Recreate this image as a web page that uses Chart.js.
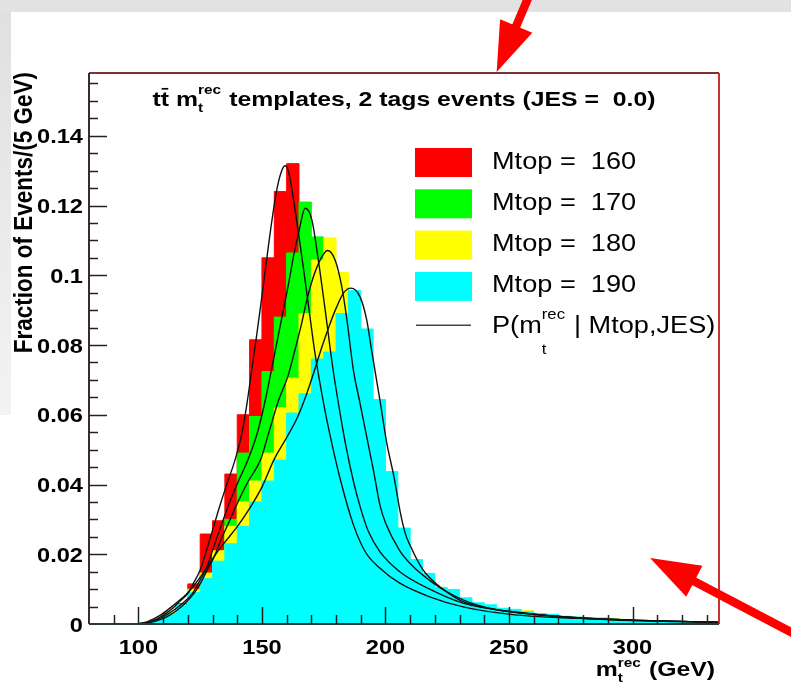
<!DOCTYPE html>
<html>
<head>
<meta charset="utf-8">
<title>ttbar mt templates</title>
<script src="https://cdn.jsdelivr.net/npm/chart.js@4.4.1/dist/chart.umd.min.js"></script>
<style>
    html, body { margin: 0; padding: 0; background: #fff; }
    #page { position: relative; width: 791px; height: 683px; overflow: hidden; background: #fff; }
    #topStrip { position: absolute; left: 0; top: 0; width: 791px; height: 12px; background: #e2e2e2; }
    #leftStrip { position: absolute; left: 0; top: 12px; width: 11px; height: 403px;
                 background: linear-gradient(to bottom, #e0e0e0, #f3f3f3); }
    #plot { position: absolute; left: 0; top: 0; }
</style>
</head>
<body>
<div id="page">
    <div id="topStrip"></div>
    <div id="leftStrip"></div>
    <canvas id="plot" width="791" height="683"></canvas>
</div>
<script>
// ---- binning (lower bin edges, GeV) ----
const binLow = [80, 85, 90, 95, 100, 105, 110, 115, 120, 125, 130, 135, 140, 145, 150, 155, 160,
    165, 170, 175, 180, 185, 190, 195, 200, 205, 210, 215, 220, 225, 230, 235, 240, 245, 250, 255,
    260, 265, 270, 275, 280, 285, 290, 295, 300, 305, 310, 315, 320, 325, 330];
const binWidth = 5;

// ---- template histograms, fraction of events per bin ----
const frac160 = [0, 0, 0, 0, 0.0003, 0.0012, 0.003, 0.0058, 0.0115, 0.0258, 0.0296, 0.043, 0.060,
    0.0815, 0.105, 0.124, 0.132, 0.100, 0.072, 0.052, 0.039, 0.029, 0.022, 0.017, 0.0135, 0.011,
    0.0092, 0.0078, 0.0066, 0.0056, 0.0048, 0.0041, 0.0036, 0.0031, 0.0027, 0.0024, 0.0021, 0.0019,
    0.0017, 0.0015, 0.0014, 0.0012, 0.0011, 0.001, 0.0009, 0.0008, 0.0007, 0.0006, 0.0005, 0.0005, 0.0004];
const frac170 = [0, 0, 0, 0, 0.0002, 0.001, 0.0028, 0.0055, 0.0095, 0.014, 0.020, 0.030, 0.049,
    0.0595, 0.0724, 0.088, 0.1064, 0.121, 0.111, 0.085, 0.062, 0.046, 0.034, 0.025, 0.019, 0.015,
    0.012, 0.010, 0.0082, 0.0068, 0.0058, 0.0049, 0.0042, 0.0036, 0.0032, 0.0028, 0.0025, 0.0023,
    0.002, 0.0018, 0.0017, 0.0017, 0.0015, 0.0012, 0.001, 0.0009, 0.0008, 0.0007, 0.0006, 0.0005, 0.0004];
const frac180 = [0, 0, 0, 0, 0.0002, 0.0012, 0.0035, 0.005, 0.010, 0.0146, 0.021, 0.028, 0.035,
    0.041, 0.049, 0.062, 0.0705, 0.089, 0.1044, 0.1107, 0.1008, 0.085, 0.062, 0.042, 0.029, 0.021,
    0.0165, 0.0125, 0.0098, 0.0078, 0.0064, 0.0054, 0.0046, 0.004, 0.0035, 0.0038, 0.0028, 0.0026,
    0.0022, 0.0019, 0.0018, 0.0016, 0.0014, 0.0012, 0.0011, 0.0009, 0.0008, 0.0007, 0.0006, 0.0005, 0.0004];
const frac190 = [0, 0, 0, 0, 0.0003, 0.0012, 0.003, 0.0055, 0.009, 0.013, 0.018, 0.023, 0.028,
    0.035, 0.041, 0.047, 0.0605, 0.066, 0.076, 0.078, 0.089, 0.0956, 0.0846, 0.0644, 0.0437, 0.0275,
    0.0185, 0.0145, 0.0105, 0.0099, 0.0075, 0.0061, 0.0055, 0.0045, 0.0042, 0.0035, 0.003, 0.0028,
    0.0022, 0.002, 0.0016, 0.0015, 0.0013, 0.0011, 0.0009, 0.0008, 0.0007, 0.0006, 0.0005, 0.0004, 0.0003];

// ---- fitted P(m | Mtop, JES) curves, sampled (mass GeV, value) ----
const fitM160 = [100, 103, 106.5, 110, 113, 116, 120, 122.5, 125, 129, 133, 136, 139.3, 142, 144,
    146, 148, 150, 152, 154, 156, 158, 159.5, 161, 162.8, 164.8, 166.9, 168.9, 171.6, 174.9, 177.6,
    181.7, 187, 192, 197.8, 205.8, 217.9, 231.4, 251.5, 278.4, 300, 335];
const fitV160 = [0, 0.0002, 0.0011, 0.0025, 0.004, 0.006, 0.0088, 0.012, 0.0155, 0.0245, 0.034,
    0.0405, 0.0475, 0.055, 0.0635, 0.0735, 0.0835, 0.094, 0.105, 0.1155, 0.1245, 0.130, 0.1314,
    0.129, 0.1216, 0.112, 0.1015, 0.091, 0.077, 0.0635, 0.054, 0.0415, 0.0285, 0.0205, 0.016,
    0.0117, 0.0078, 0.0049, 0.0027, 0.0016, 0.001, 0.0005];
const fitM170 = [100, 104, 107.7, 111, 114.4, 118, 121.9, 124.5, 127.2, 131.9, 137.3, 140.5, 144,
    148.1, 151.4, 154.1, 156.8, 158.8, 160.8, 162.8, 164.8, 167.5, 170.2, 172.9, 175.6, 178.8, 181.5,
    184, 187, 190, 193.1, 197.8, 205.8, 217.9, 231.4, 250, 278, 300, 335];
const fitV170 = [0, 0.0004, 0.0013, 0.0025, 0.004, 0.006, 0.0088, 0.012, 0.0155, 0.025, 0.0356,
    0.041, 0.0465, 0.0547, 0.0643, 0.0738, 0.0834, 0.0905, 0.0977, 0.1055, 0.112, 0.1192, 0.1159,
    0.104, 0.090, 0.0729, 0.061, 0.051, 0.041, 0.033, 0.0265, 0.0207, 0.015, 0.010, 0.006, 0.0036,
    0.0018, 0.0011, 0.0005];
const fitM180 = [100, 105, 109.1, 112.5, 115.8, 119, 122.5, 125, 127.9, 130.5, 133.3, 136.5, 140,
    144.5, 149.4, 152.7, 156.8, 160.5, 163.5, 166, 168.2, 170.9, 173.6, 176.5, 179.6, 182.3, 184.4,
    187, 189.7, 192.4, 195.1, 197.8, 200, 205.8, 211.2, 217.9, 224.7, 231.4, 242, 251.5, 278, 300, 335];
const fitV180 = [0, 0.0005, 0.0013, 0.0025, 0.004, 0.006, 0.0088, 0.0115, 0.0155, 0.019, 0.024,
    0.029, 0.0346, 0.041, 0.047, 0.0547, 0.0643, 0.071, 0.079, 0.086, 0.093, 0.0997, 0.1044, 0.1071,
    0.1044, 0.0968, 0.0872, 0.0729, 0.0633, 0.0537, 0.0442, 0.034, 0.029, 0.021, 0.0165, 0.0125,
    0.0092, 0.0064, 0.0045, 0.0034, 0.0018, 0.0011, 0.0005];
const fitM190 = [100, 103.7, 109.1, 114.4, 119.8, 125.2, 130.6, 134.6, 140, 145.4, 150.1, 154.8,
    160.2, 164.2, 168.2, 170.9, 174.3, 177.6, 180.3, 183, 186, 189.7, 192.4, 194.5, 197.8, 200.5,
    203.5, 206, 208, 210, 215.2, 222, 231.4, 242, 251.5, 278, 300, 335];
const fitV190 = [0, 0.0007, 0.0026, 0.0055, 0.0088, 0.0136, 0.0193, 0.0231, 0.0279, 0.0336, 0.0394,
    0.047, 0.0537, 0.059, 0.0662, 0.0719, 0.0795, 0.0862, 0.091, 0.0949, 0.0963, 0.0938, 0.0872,
    0.078, 0.064, 0.052, 0.042, 0.032, 0.026, 0.0225, 0.0155, 0.0107, 0.0069, 0.0045, 0.0035,
    0.0017, 0.0011, 0.0005];

// ---- axes ----
const xTicks = [100, 150, 200, 250, 300];
const xTickText = ['100', '150', '200', '250', '300'];
const yTicks = [0, 0.02, 0.04, 0.06, 0.08, 0.1, 0.12, 0.14];
const yTickText = ['0', '0.02', '0.04', '0.06', '0.08', '0.1', '0.12', '0.14'];
const xRange = [80, 335];
const yRange = [0, 0.158];

const topMasses = [160, 170, 180, 190];
const fillColors = ['#ff0000', '#00ff00', '#ffff00', '#00ffff'];

// text in this plot is a touch wider than the stock Helvetica metrics
const STRETCH = 1.18;
const FAMILY = '"Liberation Sans", Arial, Helvetica, sans-serif';

function font(size, bold) {
    return (bold ? 'bold ' : '') + size + 'px ' + FAMILY;
}

function histPoints(values) {
    const pts = binLow.map(function (lo, i) { return { x: lo, y: values[i] }; });
    pts.push({ x: binLow[binLow.length - 1] + binWidth, y: 0 });
    return pts;
}

function curvePoints(ms, vs) {
    return ms.map(function (m, i) { return { x: m, y: vs[i] }; });
}

// width of a run of text pieces, where {sup, sub} pieces are stacked scripts
function richWidth(ctx, parts, size, bold) {
    let w = 0;
    parts.forEach(function (p) {
        if (p.sup !== undefined) {
            ctx.font = font(size * 0.62, bold);
            w += Math.max(ctx.measureText(p.sup).width, ctx.measureText(p.sub).width) + size * 0.05;
        } else {
            ctx.font = font(size, bold);
            w += ctx.measureText(p.text).width;
        }
    });
    return w;
}

function drawRich(ctx, parts, x, y, o) {
    const w = richWidth(ctx, parts, o.size, o.bold) * STRETCH;
    const x0 = o.align === 'right' ? x - w : (o.align === 'center' ? x - w / 2 : x);
    ctx.save();
    ctx.translate(x0, y);
    ctx.scale(STRETCH, 1);
    ctx.fillStyle = '#000';
    ctx.textAlign = 'left';
    ctx.textBaseline = 'alphabetic';
    let pos = 0;
    parts.forEach(function (p) {
        if (p.sup !== undefined) {
            ctx.font = font(o.size * 0.62, o.bold);
            ctx.fillText(p.sup, pos, -o.supDy * o.size);
            ctx.fillText(p.sub, pos, o.subDy * o.size);
            pos += Math.max(ctx.measureText(p.sup).width, ctx.measureText(p.sub).width) + o.size * 0.05;
        } else {
            ctx.font = font(o.size, o.bold);
            ctx.fillText(p.text, pos, 0);
            const tw = ctx.measureText(p.text).width;
            if (p.bar) {
                ctx.fillRect(pos + tw * 0.1, -o.size * 0.86, tw * 0.8, o.size * 0.08);
            }
            pos += tw;
        }
    });
    ctx.restore();
}

function drawPlain(ctx, txt, x, y, size, bold, align) {
    drawRich(ctx, [{ text: txt }], x, y, { size: size, bold: bold, align: align, supDy: 0, subDy: 0 });
}

function drawArrow(ctx, tipX, tipY, dx, dy) {
    const len = Math.sqrt(dx * dx + dy * dy);
    const ux = dx / len, uy = dy / len;
    const head = 50, half = 17.5;
    const bx = tipX + ux * head, by = tipY + uy * head;
    ctx.save();
    ctx.strokeStyle = '#ff0000';
    ctx.fillStyle = '#ff0000';
    ctx.lineWidth = 8.5;
    ctx.beginPath();
    ctx.moveTo(bx - ux * 2, by - uy * 2);
    ctx.lineTo(tipX + dx, tipY + dy);
    ctx.stroke();
    ctx.beginPath();
    ctx.moveTo(tipX, tipY);
    ctx.lineTo(bx - uy * half, by + ux * half);
    ctx.lineTo(bx + uy * half, by - ux * half);
    ctx.closePath();
    ctx.fill();
    ctx.restore();
}

// ROOT-like frame: inner ticks, labels, title, legend and the two pointer arrows
const rootFrame = {
    id: 'rootFrame',
    afterDatasetsDraw: function (chart) {
        const ctx = chart.ctx;
        const a = chart.chartArea;
        const xs = chart.scales.x, ys = chart.scales.y;

        ctx.save();
        // frame
        ctx.lineWidth = 2;
        ctx.strokeStyle = '#7a3434';
        ctx.beginPath(); ctx.moveTo(a.left, a.top); ctx.lineTo(a.right, a.top); ctx.stroke();
        ctx.strokeStyle = '#c83232';
        ctx.beginPath(); ctx.moveTo(a.right, a.top); ctx.lineTo(a.right, a.bottom); ctx.stroke();
        ctx.strokeStyle = '#3b2c2c';
        ctx.beginPath(); ctx.moveTo(a.left, a.top); ctx.lineTo(a.left, a.bottom); ctx.stroke();
        ctx.strokeStyle = '#2c3a36';
        ctx.beginPath(); ctx.moveTo(a.left, a.bottom); ctx.lineTo(a.right, a.bottom); ctx.stroke();

        // ticks, pointing into the frame
        ctx.strokeStyle = '#222';
        ctx.lineWidth = 1.5;
        for (let k = 1; k * 0.005 <= ys.max; k++) {
            const py = Math.round(ys.getPixelForValue(k * 0.005)) + 0.5;
            const len = (k % 4 === 0) ? 18 : 9;
            ctx.beginPath(); ctx.moveTo(a.left, py); ctx.lineTo(a.left + len, py); ctx.stroke();
        }
        for (let m = xs.min + 10; m < xs.max; m += 10) {
            const px = Math.round(xs.getPixelForValue(m)) + 0.5;
            const len = (m % 50 === 0) ? 17 : 9;
            ctx.beginPath(); ctx.moveTo(px, a.bottom); ctx.lineTo(px, a.bottom - len); ctx.stroke();
        }
        ctx.restore();

        // tick labels
        yTicks.forEach(function (v, i) {
            drawPlain(ctx, yTickText[i], a.left - 6, ys.getPixelForValue(v) + 7.5, 20, true, 'right');
        });
        xTicks.forEach(function (m, i) {
            drawPlain(ctx, xTickText[i], xs.getPixelForValue(m), a.bottom + 30, 20, true, 'center');
        });

        // axis titles
        ctx.save();
        ctx.translate(32, a.top - 1);
        ctx.scale(STRETCH, 1);
        ctx.rotate(-Math.PI / 2);
        ctx.font = font(22.5, true);
        ctx.fillStyle = '#000';
        ctx.textAlign = 'right';
        ctx.fillText('Fraction of Events/(5 GeV)', 0, 0);
        ctx.restore();

        drawRich(ctx, [{ text: 'm' }, { sup: 'rec', sub: 't' }, { text: ' (GeV)' }],
            a.right - 4, a.bottom + 52, { size: 21, bold: true, align: 'right', supDy: 0.45, subDy: 0.3 });

        // plot title
        drawRich(ctx, [{ text: 't' }, { text: 't', bar: true }, { text: ' m' }, { sup: 'rec', sub: 't' },
            { text: ' templates, 2 tags events (JES =  0.0)' }],
            (a.left + a.right) / 2, a.top + 33, { size: 21, bold: true, align: 'center', supDy: 0.55, subDy: 0.3 });

        // legend
        const boxX = 415, boxW = 57, boxH = 29, rowTop = 148, rowStep = 41.3, textX = 492;
        topMasses.forEach(function (mt, i) {
            const top = rowTop + i * rowStep;
            ctx.fillStyle = fillColors[i];
            ctx.fillRect(boxX, top, boxW, boxH);
            drawPlain(ctx, 'Mtop =  ' + mt, textX, top + 20.5, 23, false, 'left');
        });
        const lineY = rowTop + 4 * rowStep + 12;
        ctx.save();
        ctx.strokeStyle = '#444';
        ctx.lineWidth = 1.5;
        ctx.beginPath(); ctx.moveTo(boxX + 1, lineY); ctx.lineTo(boxX + boxW - 1, lineY); ctx.stroke();
        ctx.restore();
        drawRich(ctx, [{ text: 'P(m' }, { sup: 'rec', sub: 't' }, { text: ' | Mtop,JES)' }],
            textX, lineY + 8, { size: 23, bold: false, align: 'left', supDy: 0.6, subDy: 0.9 });

        // pointer arrows
        drawArrow(ctx, xs.getPixelForValue(245), ys.getPixelForValue(yRange[1]) - 1, 34, -80);
        drawArrow(ctx, xs.getPixelForValue(307.1), ys.getPixelForValue(0.0189), 160, 84);
    }
};

const histSets = [frac160, frac170, frac180, frac190].map(function (vals, i) {
    return {
        label: 'Mtop = ' + topMasses[i],
        data: histPoints(vals),
        stepped: true,
        fill: 'origin',
        backgroundColor: fillColors[i],
        borderColor: fillColors[i],
        borderWidth: 1,
        pointRadius: 0,
        order: 4 - i
    };
});

const fitSets = [[fitM160, fitV160], [fitM170, fitV170], [fitM180, fitV180], [fitM190, fitV190]]
    .map(function (c, i) {
        return {
            label: 'P(m | Mtop=' + topMasses[i] + ')',
            data: curvePoints(c[0], c[1]),
            cubicInterpolationMode: 'monotone',
            fill: false,
            borderColor: '#111',
            borderWidth: 1.4,
            pointRadius: 0,
            order: 0
        };
    });

new Chart(document.getElementById('plot'), {
    type: 'line',
    data: { datasets: histSets.concat(fitSets) },
    options: {
        responsive: false,
        animation: false,
        devicePixelRatio: 1,
        layout: { padding: { left: 89, top: 73, right: 72, bottom: 59 } },
        scales: {
            x: { type: 'linear', min: xRange[0], max: xRange[1], display: false },
            y: { type: 'linear', min: yRange[0], max: yRange[1], display: false }
        },
        plugins: {
            legend: { display: false },
            tooltip: { enabled: false }
        }
    },
    plugins: [rootFrame]
});
</script>
</body>
</html>
